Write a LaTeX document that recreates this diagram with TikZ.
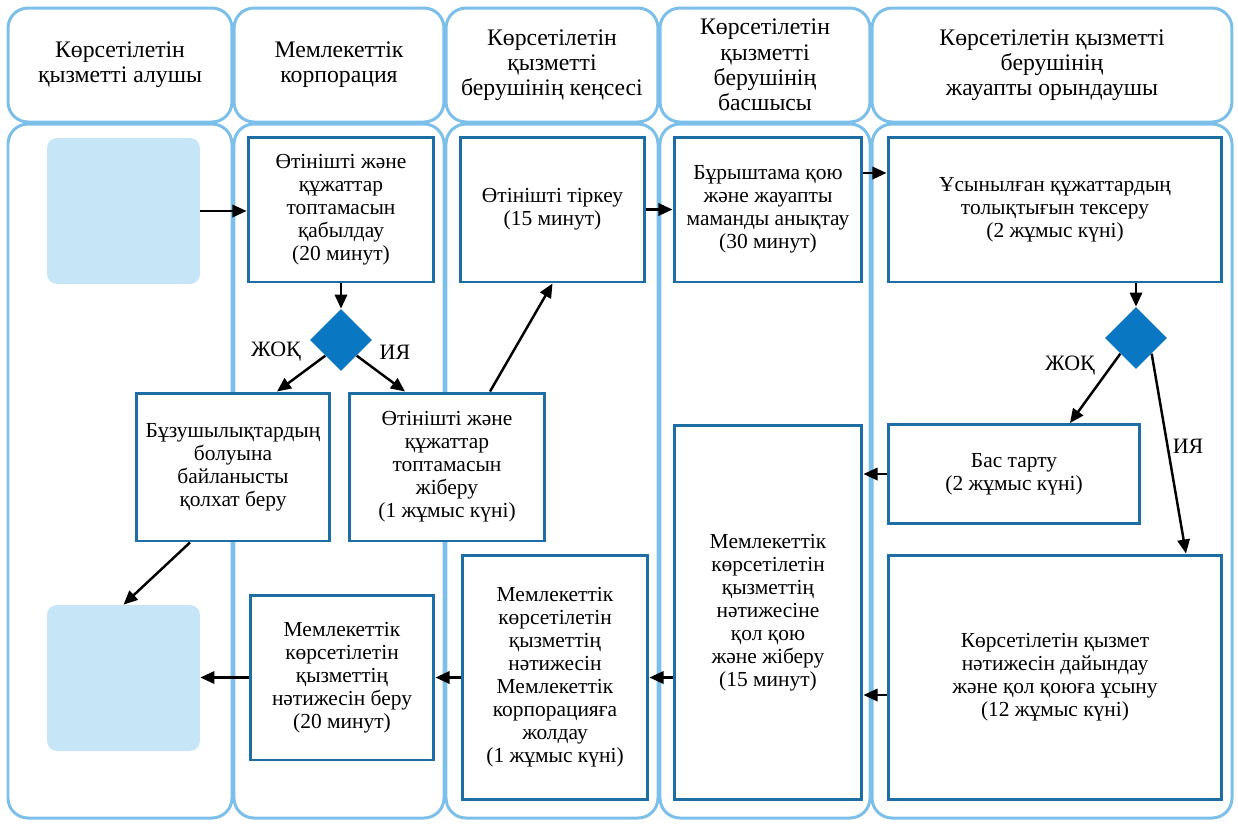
\documentclass[tikz,border=0pt]{standalone}
\usepackage{fontspec}
\setmainfont{Liberation Serif}
\usetikzlibrary{positioning,shapes.geometric,arrows.meta}
\definecolor{lanecol}{RGB}{124,192,234}
\definecolor{boxcol}{RGB}{28,110,164}
\definecolor{deccol}{RGB}{10,119,194}
\definecolor{blankcol}{RGB}{198,229,247}

\begin{document}
\begin{tikzpicture}
	[x=0.02cm,y=-0.02cm,
	lane/.style={draw=lanecol,line width=1.7pt,rounded corners=0.4cm},
	head/.style={lane,rectangle,minimum height=2.28cm,align=center,font=\fontsize{13.5}{14.4}\selectfont},
	stepbox/.style={rectangle,draw=boxcol,fill=white,line width=1.7pt,align=center,font=\fontsize{12.2}{13.1}\selectfont},
	blank/.style={rectangle,fill=blankcol,rounded corners=0.2cm,minimum width=3.06cm,minimum height=2.92cm},
	dec/.style={diamond,fill=deccol,minimum width=1.24cm,minimum height=1.24cm,inner sep=0pt},
	lbl/.style={font=\fontsize{12.5}{13}\selectfont},
	link/.style={-{Triangle[length=8pt,width=7pt]},line width=1.4pt}]
	\useasboundingbox (0,0) rectangle (1238,823);
	% headers
	\node[head,minimum width=4.48cm] (hd0) at (120,65) {Көрсетілетін\\қызметті алушы};
	\node[head,minimum width=4.20cm] (hd1) at (339,65) {Мемлекеттік\\корпорация};
	\node[head,minimum width=4.24cm] (hd2) at (552,65) {Көрсетілетін\\қызметті\\берушінің кеңсесі};
	\node[head,minimum width=4.20cm] (hd3) at (765,65) {Көрсетілетін\\қызметті\\берушінің\\басшысы};
	\node[head,minimum width=7.20cm] (hd4) at (1052,65) {Көрсетілетін қызметті\\берушінің\\жауапты орындаушы};
	% lanes
	\draw[lane] (8,124) rectangle (232,818);
	\draw[lane] (234,124) rectangle (444,818);
	\draw[lane] (446,124) rectangle (658,818);
	\draw[lane] (660,124) rectangle (870,818);
	\draw[lane] (872,124) rectangle (1232,818);
	% steps
	\node[blank] (recv0) at (123.5,211) {};
	\node[blank] (recv1) at (123.5,678) {};
	\node[stepbox,minimum width=3.72cm,minimum height=2.9cm] (acc0) at (341,209.5) {Өтінішті және\\құжаттар\\топтамасын\\қабылдау\\(20 минут)};
	\node[dec] (dec0) at (341,340) {};
	\node[stepbox,minimum width=3.88cm,minimum height=2.96cm] (refuse0) at (233,467) {Бұзушылықтардың\\болуына\\байланысты\\қолхат беру};
	\node[stepbox,minimum width=3.92cm,minimum height=2.96cm] (send0) at (447,467) {Өтінішті және\\құжаттар\\топтамасын\\жіберу\\(1 жұмыс күні)};
	\node[stepbox,minimum width=3.7cm,minimum height=2.9cm] (reg0) at (552.5,209.5) {Өтінішті тіркеу\\(15 минут)};
	\node[stepbox,minimum width=3.76cm,minimum height=2.9cm] (head0) at (768,209.5) {Бұрыштама қою\\және жауапты\\маманды анықтау\\(30 минут)};
	\node[stepbox,minimum width=6.68cm,minimum height=2.9cm] (chk0) at (1055,209.5) {Ұсынылған құжаттардың\\толықтығын тексеру\\(2 жұмыс күні)};
	\node[dec] (dec1) at (1136,338) {};
	\node[stepbox,minimum width=5.04cm,minimum height=1.98cm] (deny0) at (1014,474) {Бас тарту\\(2 жұмыс күні)};
	\node[stepbox,minimum width=3.76cm,minimum height=7.5cm] (sign0) at (768,612.5) {Мемлекеттік\\көрсетілетін\\қызметтің\\нәтижесіне\\қол қою\\және жіберу\\(15 минут)};
	\node[stepbox,minimum width=6.68cm,minimum height=4.9cm] (prep0) at (1055,677.5) {Көрсетілетін қызмет\\нәтижесін дайындау\\және қол қоюға ұсыну\\(12 жұмыс күні)};
	\node[stepbox,minimum width=3.72cm,minimum height=4.9cm] (fwd0) at (555,677.5) {Мемлекеттік\\көрсетілетін\\қызметтің\\нәтижесін\\Мемлекеттік\\корпорацияға\\жолдау\\(1 жұмыс күні)};
	\node[stepbox,minimum width=3.68cm,minimum height=3.3cm] (give0) at (342,677.5) {Мемлекеттік\\көрсетілетін\\қызметтің\\нәтижесін беру\\(20 минут)};
	% labels
	\node[lbl] (no0) at (276,352) {ЖОҚ};
	\node[lbl] (yes0) at (395,352) {ИЯ};
	\node[lbl] (no1) at (1070,366) {ЖОҚ};
	\node[lbl] (yes1) at (1188,446) {ИЯ};
	% arrows
	\draw [link] (recv0.east) -- (recv0.east -| acc0.west);
	\draw [link] (acc0.south) -- (dec0.north);
	\draw [link] (dec0.-135) -- ([xshift=0.88cm]refuse0.north);
	\draw [link] (dec0.-45) -- ([xshift=-0.84cm]send0.north);
	\draw [link] ([xshift=0.86cm]send0.north) -- (reg0.south);
	\draw [link] (reg0.east) -- (head0.west);
	\draw [link] ([yshift=0.73cm]head0.east) -- ([yshift=0.73cm]chk0.west);
	\draw [link] (dec1.north |- chk0.south) -- (dec1.north);
	\draw [link] (dec1.-135) -- ([xshift=1.12cm]deny0.north);
	\draw [link] (dec1.-45) -- ([xshift=2.62cm]prep0.north);
	\draw [link] (deny0.west) -- (deny0.west -| sign0.east);
	\draw [link] ([yshift=-0.35cm]prep0.west) -- ([yshift=-0.35cm]prep0.west -| sign0.east);
	\draw [link] (fwd0.east -| sign0.west) -- (fwd0.east);
	\draw [link] (fwd0.west) -- (give0.east);
	\draw [link] (give0.west) -- (give0.west -| recv1.east);
	\draw [link] ([xshift=-0.86cm]refuse0.south) -- (recv1.north);
\end{tikzpicture}
\end{document}
